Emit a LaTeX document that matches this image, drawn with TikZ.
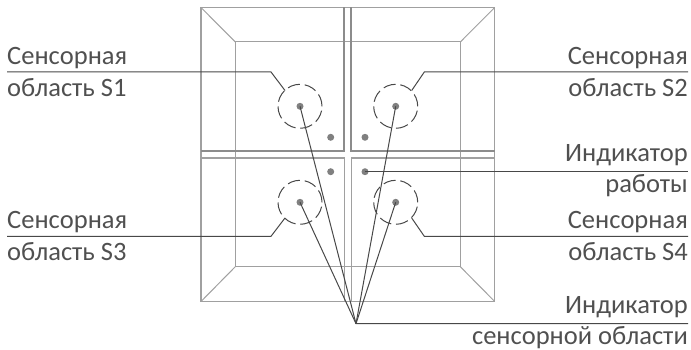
\documentclass[tikz,border=0pt]{standalone}
\usepackage{fontspec}
\setmainfont{Carlito}
\definecolor{txt}{HTML}{505050}
\definecolor{lead}{HTML}{484848}
\definecolor{frm}{HTML}{A0A0A0}
\definecolor{thick}{HTML}{8C8C8C}
\definecolor{dotc}{HTML}{808080}
\tikzset{
 lab/.style={inner sep=0pt,text=txt,font=\fontsize{26.5}{28}\selectfont},
 labl/.style={lab,anchor=base west},
 labr/.style={lab,anchor=base east},
 leader/.style={draw=lead,line width=1pt},
 frame/.style={draw=frm,line width=1.2pt},
 seam/.style={draw=thick,line width=2pt},
 bevel/.style={draw=frm,line width=1pt},
 ring/.style={circle,draw=lead,line width=1pt,dash pattern=on 12.5pt off 4.8pt,minimum size=44pt,inner sep=0pt},
 pt/.style={circle,fill=dotc,inner sep=0pt,minimum size=7pt},
}
\begin{document}
\begin{tikzpicture}[x=1pt,y=-1pt]
\useasboundingbox (0,0) rectangle (691,350);
% frame
\draw[frame] (201,7.5) rectangle (494.7,301.5);
\fill[white] (345,8) rectangle (351,301);
\fill[white] (202,152) rectangle (494,157);
\draw[bevel] (235.3,42) rectangle (460.3,266.7);
\draw[bevel] (201,7.5) -- (235.3,42) (494.7,7.5) -- (460.3,42) (201,301.5) -- (235.3,266.7) (494.7,301.5) -- (460.3,266.7);
% seams
\draw[seam] (344.3,7.5) -- (344.3,151) -- (201,151);
\draw[seam] (351.3,7.5) -- (351.3,151) -- (494.7,151);
\draw[frame] (344.3,301.5) -- (344.3,158) -- (201,158);
\draw[frame] (351.3,301.5) -- (351.3,158) -- (494.7,158);
% sensor rings
\node[ring] (r1) at (300,106.3) {};
\node[ring] (r2) at (395.7,106.3) {};
\node[ring] (r3) at (300,202.3) {};
\node[ring] (r4) at (395.7,202.3) {};
\node[pt] (d1) at (300,106.3) {};
\node[pt] (d2) at (395.7,106.3) {};
\node[pt] (d3) at (300,202.3) {};
\node[pt] (d4) at (395.7,202.3) {};
\node[pt] (a) at (330.7,137.3) {};
\node[pt] (b) at (365,137.3) {};
\node[pt] (c) at (330.7,171.7) {};
\node[pt] (e) at (365,171.7) {};
% labels
\node[labl] (l1a) at (7,65) {Сенсорная};
\node[labl] (l1b) at (7,96.7) {область S1};
\node[labr] (l2a) at (688,65) {Сенсорная};
\node[labr] (l2b) at (688,96.7) {область S2};
\node[labr] (l5a) at (688,161.7) {Индикатор};
\node[labr] (l5b) at (688,193) {работы};
\node[labl] (l3a) at (7,228) {Сенсорная};
\node[labl] (l3b) at (7,260) {область S3};
\node[labr] (l4a) at (688,228) {Сенсорная};
\node[labr] (l4b) at (688,260) {область S4};
\node[labr] (l6a) at (688,313) {Индикатор};
\node[labr] (l6b) at (688,344) {сенсорной области};
% leader ends
\coordinate (s1) at (7,72);
\coordinate (k1) at (271,72);
\coordinate (t1) at (285,90.5);
\coordinate (s2) at (688,72);
\coordinate (k2) at (424.3,72);
\coordinate (t2) at (411.7,90.5);
\coordinate (s3) at (7,236.3);
\coordinate (k3) at (271,236.3);
\coordinate (t3) at (285,218);
\coordinate (s4) at (688,236.3);
\coordinate (k4) at (424.3,236.3);
\coordinate (t4) at (411.7,218);
\coordinate (s5) at (688,171.7);
\coordinate (s6) at (688,323.7);
\coordinate (apex) at (356,323.7);
\draw[leader] (s1) -- (k1) -- (t1);
\draw[leader] (s2) -- (k2) -- (t2);
\draw[leader] (s3) -- (k3) -- (t3);
\draw[leader] (s4) -- (k4) -- (t4);
\draw[leader] (e.center) -- (s5);
\draw[leader] (s6) -- (apex) -- (d1.center);
\draw[leader] (apex) -- (d2.center);
\draw[leader] (apex) -- (d3.center);
\draw[leader] (apex) -- (d4.center);
\end{tikzpicture}
\end{document}
